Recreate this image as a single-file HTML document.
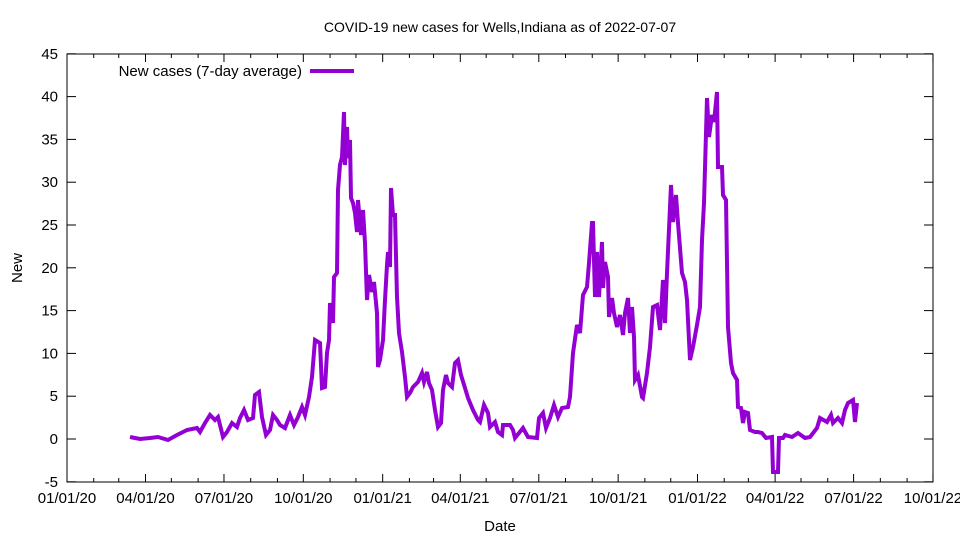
<!DOCTYPE html>
<html><head><meta charset="utf-8"><style>
body{margin:0;background:#fff}
svg{display:block;font-family:"Liberation Sans",sans-serif}
</style></head><body>
<svg id="s" width="960" height="540" xmlns="http://www.w3.org/2000/svg">
<rect width="960" height="540" fill="#fff"/>
<text x="500" y="32" font-size="14" text-anchor="middle">COVID-19 new cases for Wells,Indiana as of 2022-07-07</text>
<text x="500" y="531" font-size="15" text-anchor="middle">Date</text>
<text transform="translate(22,268) rotate(-90)" font-size="15" text-anchor="middle">New</text>
<g id="ax" stroke="#000" stroke-width="1" fill="none"></g>
<g id="lb" font-size="15" fill="#000"></g>
<rect x="67" y="54" width="866" height="428" fill="none" stroke="#000" stroke-width="1"/>
<text x="302" y="76" font-size="15" text-anchor="end">New cases (7-day average)</text>
<line x1="310" y1="71" x2="354" y2="71" stroke="#9400d3" stroke-width="4"/>
<polyline fill="none" stroke="#9400d3" stroke-width="4" stroke-linejoin="miter" points="
130,437 140,439 150,438 158,437 168,440 177,435 187,430 197,428 200,432 205,423 210,415 215,420 218,417 223,437 227,432 232,423 237,427 240,418 244,410 248,420 253,418 255,395 259,392 262,417 266,435 270,430 273,415 277,420 280,425 285,428 290,415 294,425 298,417 302,407 305,415 309,397 312,377 315,340 320,343 322,388 325,387 327,353 329,340 330,303 333,323 334,277 337,273 338,190 340,165 342,157 344,112 345,165 347,127 348,158 350,140 351,198 353,203 355,213 357,232 358,200 361,235 363,210 365,243 367,300 369,275 372,292 374,282 377,313 378,367 380,360 383,340 385,300 387,265 388,252 390,267 391,188 393,215 395,215 397,297 399,333 402,352 405,377 407,397 410,393 413,387 418,382 422,373 424,382 427,372 429,383 432,390 435,410 438,427 441,423 443,390 446,375 448,383 452,387 455,363 458,360 461,375 465,388 468,398 473,410 478,420
480,422 484,405 488,413 490,427 495,422 498,432 502,435 503,425 510,425 513,430 515,438 523,428 528,437 537,438 539,418 543,413 546,428 550,418 554,405 558,417 562,408 568,407 570,397 573,353 577,325 580,333 583,295 587,287 589,263 592,223 593,223 595,297 597,252 599,297 602,242 603,288 605,262 608,277 609,317 612,298 614,313 617,327 620,315 623,335 625,313 628,298 630,333 632,307 634,337 635,380 638,375 642,397 643,398 647,373 650,347 653,307 657,305 660,330 663,280 665,323 667,273 671,185 673,222 676,195 678,223 682,273 685,282 687,300 690,360 693,347 697,325 700,307 702,240 704,203 707,98 709,137 712,115 714,122 717,92 718,167 722,167 723,195 726,200 727,263 728,327 731,363 733,373 737,380 738,407 741,408 743,423 745,412 748,413 750,430 755,432 758,432 762,433 766,438 772,437 773,472 778,472 779,438 783,438 785,435 792,437 798,433 805,438 810,437 817,428 820,418 827,422 831,415 833,423 838,418 842,423 845,410 848,403 853,400 855,422 857,403"/>
</svg>
<script>
var ax=document.getElementById('ax'),lb=document.getElementById('lb'),NS='http://www.w3.org/2000/svg';
function L(x1,y1,x2,y2){var l=document.createElementNS(NS,'line');l.setAttribute('x1',x1);l.setAttribute('y1',y1);l.setAttribute('x2',x2);l.setAttribute('y2',y2);ax.appendChild(l);}
function T(x,y,s,a){var t=document.createElementNS(NS,'text');t.setAttribute('x',x);t.setAttribute('y',y);t.setAttribute('text-anchor',a);t.textContent=s;lb.appendChild(t);}
for(var v=-5;v<=45;v+=5){var y=439-v*8.56;L(67,y,76,y);L(933,y,924,y);T(58,y+5,String(v),'end');}
var base=Date.UTC(2020,0,1);
for(var m=0;m<=33;m++){var yr=2020+Math.floor(m/12),mo=m%12;var d=(Date.UTC(yr,mo,1)-base)/864e5;var x=67+d*0.8625;
 if(mo%3==0){L(x,482,x,474);L(x,54,x,62);var s=('0'+(mo+1)).slice(-2)+'/01/'+String(yr).slice(2);T(x,503,s,'middle');}
 else{L(x,482,x,478);L(x,54,x,58);}}
</script>
</body></html>
